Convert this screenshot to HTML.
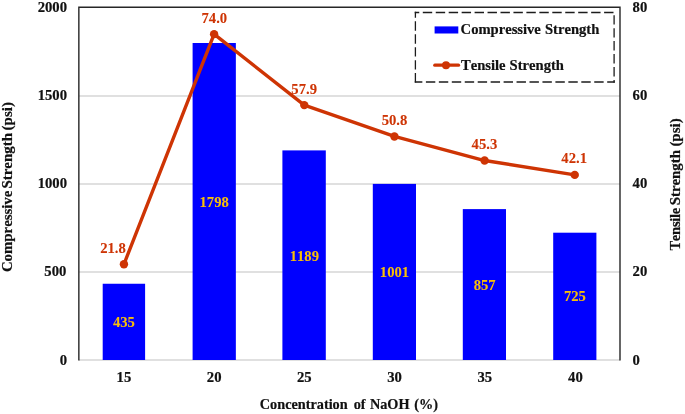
<!DOCTYPE html>
<html><head><meta charset="utf-8"><title>chart</title>
<style>
html,body{margin:0;padding:0;background:#fff;}
body{width:685px;height:414px;overflow:hidden;}
svg{display:block;will-change:transform;}
text{font-family:"Liberation Serif",serif;font-weight:bold;font-size:14.67px;font-kerning:none;word-spacing:0.6px;white-space:pre;}
</style></head><body>
<svg width="685" height="414" viewBox="0 0 685 414">
<rect x="0" y="0" width="685" height="414" fill="#ffffff"/>

<line x1="78.85" x2="620.00" y1="360.00" y2="360.00" stroke="#e0e0e0" stroke-width="1.9"/>
<line x1="78.85" x2="620.00" y1="272.00" y2="272.00" stroke="#e0e0e0" stroke-width="1.9"/>
<line x1="78.85" x2="620.00" y1="184.00" y2="184.00" stroke="#e0e0e0" stroke-width="1.9"/>
<line x1="78.85" x2="620.00" y1="96.00" y2="96.00" stroke="#e0e0e0" stroke-width="1.9"/>
<rect x="102.70" y="283.75" width="42.40" height="76.25" fill="#0000ff"/>
<rect x="192.60" y="43.00" width="43.25" height="317.00" fill="#0000ff"/>
<rect x="282.40" y="150.40" width="43.40" height="209.60" fill="#0000ff"/>
<rect x="372.80" y="183.90" width="43.20" height="176.10" fill="#0000ff"/>
<rect x="462.80" y="209.10" width="43.20" height="150.90" fill="#0000ff"/>
<rect x="553.20" y="232.70" width="43.20" height="127.30" fill="#0000ff"/>
<polyline points="78.85,360.55 78.85,7.30 620.00,7.30 620.00,360.55" fill="none" stroke="#262626" stroke-width="1.4"/>
<polyline points="123.94,264.25 214.10,34.15 304.26,105.10 394.42,136.45 484.58,160.55 574.74,174.90" fill="none" stroke="#ce3404" stroke-width="3.4" stroke-linejoin="round" stroke-linecap="round"/>
<circle cx="123.94" cy="264.25" r="4.2" fill="#ce3404"/>
<circle cx="214.10" cy="34.15" r="4.2" fill="#ce3404"/>
<circle cx="304.26" cy="105.10" r="4.2" fill="#ce3404"/>
<circle cx="394.42" cy="136.45" r="4.2" fill="#ce3404"/>
<circle cx="484.58" cy="160.55" r="4.2" fill="#ce3404"/>
<circle cx="574.74" cy="174.90" r="4.2" fill="#ce3404"/>
<text x="67.00" y="364.65" text-anchor="end" fill="#111" stroke="#111" stroke-width="0.2">0</text>
<text x="66.30" y="276.49" text-anchor="end" fill="#111" stroke="#111" stroke-width="0.2">500</text>
<text x="67.00" y="188.32" text-anchor="end" fill="#111" stroke="#111" stroke-width="0.2">1000</text>
<text x="67.00" y="100.16" text-anchor="end" fill="#111" stroke="#111" stroke-width="0.2">1500</text>
<text x="67.00" y="12.00" text-anchor="end" fill="#111" stroke="#111" stroke-width="0.2">2000</text>
<text x="632.6" y="364.65" text-anchor="start" fill="#111" stroke="#111" stroke-width="0.2">0</text>
<text x="632.6" y="276.49" text-anchor="start" fill="#111" stroke="#111" stroke-width="0.2">20</text>
<text x="632.6" y="188.32" text-anchor="start" fill="#111" stroke="#111" stroke-width="0.2">40</text>
<text x="632.6" y="100.16" text-anchor="start" fill="#111" stroke="#111" stroke-width="0.2">60</text>
<text x="632.6" y="12.00" text-anchor="start" fill="#111" stroke="#111" stroke-width="0.2">80</text>
<text x="123.95" y="382.1" text-anchor="middle" fill="#111" stroke="#111" stroke-width="0.2">15</text>
<text x="214.14" y="382.1" text-anchor="middle" fill="#111" stroke="#111" stroke-width="0.2">20</text>
<text x="304.33" y="382.1" text-anchor="middle" fill="#111" stroke="#111" stroke-width="0.2">25</text>
<text x="394.52" y="382.1" text-anchor="middle" fill="#111" stroke="#111" stroke-width="0.2">30</text>
<text x="484.71" y="382.1" text-anchor="middle" fill="#111" stroke="#111" stroke-width="0.2">35</text>
<text x="575.40" y="382.1" text-anchor="middle" fill="#111" stroke="#111" stroke-width="0.2">40</text>
<text x="123.95" y="326.90" text-anchor="middle" fill="#f8bf08" stroke="#f8bf08" stroke-width="0.08">435</text>
<text x="214.14" y="207.43" text-anchor="middle" fill="#f8bf08" stroke="#f8bf08" stroke-width="0.08">1798</text>
<text x="304.33" y="260.52" text-anchor="middle" fill="#f8bf08" stroke="#f8bf08" stroke-width="0.08">1189</text>
<text x="394.52" y="277.10" text-anchor="middle" fill="#f8bf08" stroke="#f8bf08" stroke-width="0.08">1001</text>
<text x="484.71" y="289.79" text-anchor="middle" fill="#f8bf08" stroke="#f8bf08" stroke-width="0.08">857</text>
<text x="574.90" y="301.43" text-anchor="middle" fill="#f8bf08" stroke="#f8bf08" stroke-width="0.08">725</text>
<text x="113.00" y="253.30" text-anchor="middle" fill="#ce3404" stroke="#ce3404" stroke-width="0.08">21.8</text>
<text x="214.30" y="22.65" text-anchor="middle" fill="#ce3404" stroke="#ce3404" stroke-width="0.08">74.0</text>
<text x="304.20" y="93.70" text-anchor="middle" fill="#ce3404" stroke="#ce3404" stroke-width="0.08">57.9</text>
<text x="394.50" y="124.80" text-anchor="middle" fill="#ce3404" stroke="#ce3404" stroke-width="0.08">50.8</text>
<text x="484.40" y="149.10" text-anchor="middle" fill="#ce3404" stroke="#ce3404" stroke-width="0.08">45.3</text>
<text x="574.20" y="162.80" text-anchor="middle" fill="#ce3404" stroke="#ce3404" stroke-width="0.08">42.1</text>
<text transform="translate(12.1,272.1) rotate(-90)" style="font-size:14.82px;word-spacing:0" fill="#111" stroke="#111" stroke-width="0.2">Compressive</text>
<text transform="translate(12.1,188.6) rotate(-90)" style="font-size:14.94px;word-spacing:0" fill="#111" stroke="#111" stroke-width="0.2">Strength</text>
<text transform="translate(12.1,130.4) rotate(-90)" style="font-size:15.0px;word-spacing:0" fill="#111" stroke="#111" stroke-width="0.2">(psi)</text>
<text transform="translate(679.9,250.6) rotate(-90)" style="font-size:14.6px;word-spacing:0;letter-spacing:-0.28px" fill="#111" stroke="#111" stroke-width="0.2">Tensile</text>
<text transform="translate(679.9,205.3) rotate(-90)" style="font-size:14.86px;word-spacing:0" fill="#111" stroke="#111" stroke-width="0.2">Strength</text>
<text transform="translate(679.9,146.6) rotate(-90)" style="font-size:14.95px;word-spacing:0" fill="#111" stroke="#111" stroke-width="0.2">(psi)</text>
<text x="259.8" y="409.4" style="font-size:14.25px" fill="#111" stroke="#111" stroke-width="0.2">Concentration</text>
<text x="353.7" y="409.4" style="font-size:14.25px" fill="#111" stroke="#111" stroke-width="0.2">of</text>
<text x="369.9" y="409.4" style="font-size:14.25px" fill="#111" stroke="#111" stroke-width="0.2">NaOH</text>
<text x="414.2" y="409.4" style="font-size:14.25px" fill="#111" stroke="#111" stroke-width="0.2">(%)</text>
<rect x="415.4" y="12.5" width="198.70" height="69.50" fill="#fff"/>
<line x1="414.75" y1="12.50" x2="614.75" y2="12.50" stroke="#1c1c1c" stroke-width="1.3" stroke-dasharray="9.4 3.55" stroke-dashoffset="4.90"/>
<line x1="414.75" y1="82.00" x2="614.75" y2="82.00" stroke="#1c1c1c" stroke-width="1.3" stroke-dasharray="9.4 3.55" stroke-dashoffset="1.80"/>
<line x1="415.40" y1="11.85" x2="415.40" y2="82.65" stroke="#1c1c1c" stroke-width="1.3" stroke-dasharray="9.4 3.55" stroke-dashoffset="3.50"/>
<line x1="614.10" y1="11.85" x2="614.10" y2="82.65" stroke="#1c1c1c" stroke-width="1.3" stroke-dasharray="9.4 3.55" stroke-dashoffset="9.60"/>
<rect x="434.6" y="26.4" width="23.7" height="7.1" fill="#0000ff"/>
<text x="460.6" y="34.45" style="font-size:14.6px;word-spacing:0.5px" fill="#111" stroke="#111" stroke-width="0.2">Compressive Strength</text>
<line x1="434.8" x2="458.5" y1="65.2" y2="65.2" stroke="#ce3404" stroke-width="3.3" stroke-linecap="round"/>
<circle cx="446.0" cy="65.2" r="4.0" fill="#ce3404"/>
<text x="460.95" y="69.6" style="font-size:14.6px;word-spacing:0.4px" fill="#111" stroke="#111" stroke-width="0.2">Tensile Strength</text>
</svg></body></html>
